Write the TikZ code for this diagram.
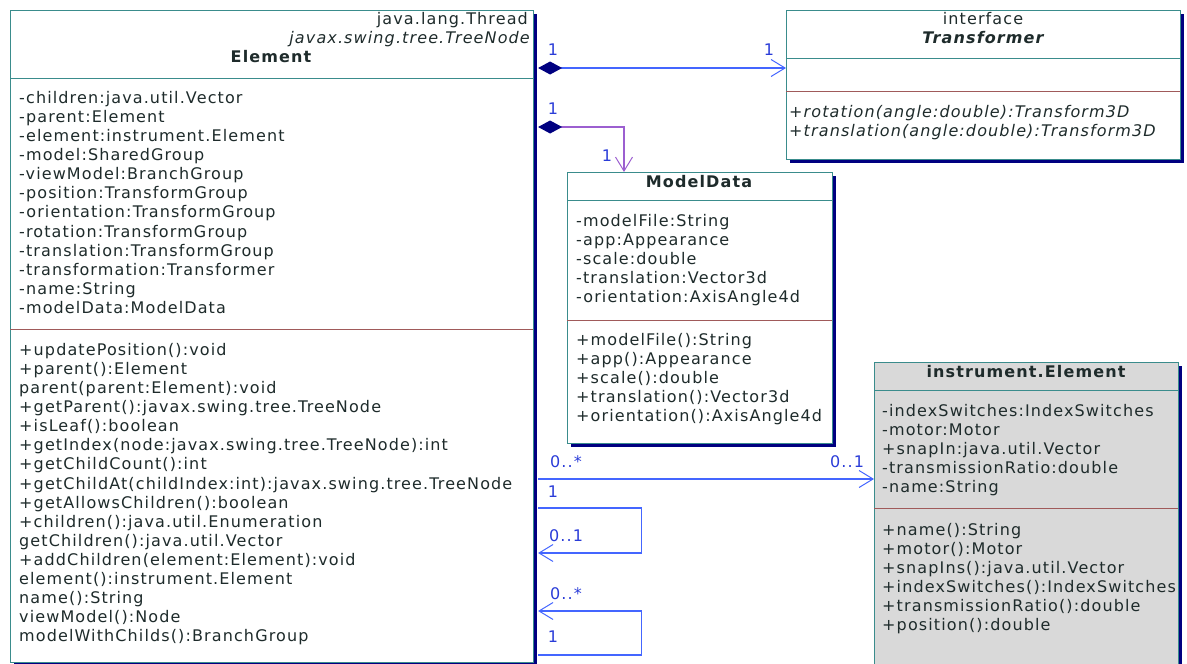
\documentclass[tikz,border=0pt]{standalone}
\usepackage{fontspec}
\setmainfont{DejaVu Sans}[LetterSpace=7]
\usetikzlibrary{arrows.meta,calc}

\definecolor{ink}{HTML}{1E2B2B}
\definecolor{frame}{HTML}{3A8C8C}
\definecolor{sepred}{HTML}{A05A5A}
\definecolor{shade}{HTML}{000080}
\definecolor{linkblue}{HTML}{4466FF}
\definecolor{linkpurple}{HTML}{9C5FD0}
\definecolor{multblue}{HTML}{2A3CD8}
\definecolor{grayfill}{HTML}{D9D9D9}

\newcommand{\umlfont}{\fontsize{16}{19.1}\selectfont}
\newcommand{\firstline}{\rule{0pt}{12pt}}

\begin{document}
\begin{tikzpicture}[x=1pt,y=-1pt,
  classbox/.style={draw=frame, line width=1.1pt, inner sep=0pt, anchor=north west},
  shadowbox/.style={fill=shade},
  sepline/.style={draw=frame, line width=1pt},
  members/.style={anchor=north west, inner sep=0pt, align=left, font=\umlfont, text=ink},
  title/.style={anchor=base, inner sep=0pt, font=\umlfont\bfseries, text=ink},
  stereo/.style={anchor=base, inner sep=0pt, font=\umlfont, text=ink},
  link/.style={draw=linkblue, line width=1.1pt},
  openhead/.style={-{Straight Barb[length=14pt,width=17pt,line width=1pt]}},
  comphead/.style={{Diamond[length=24pt,width=13pt,color=shade]}-{Straight Barb[length=14pt,width=17pt,line width=1pt]}},
  mult/.style={inner sep=0pt, font=\umlfont, text=multblue}
]
\useasboundingbox (0,0) rectangle (1187,664);

% ---------- class Element ----------
\fill[shadowbox] (14,14) rectangle (537,668);
\node[classbox, fill=white, minimum width=523pt, minimum height=652pt] (elem) at (10,10) {};
\draw[sepline] (10,78) -- (533,78);
\draw[sepline, draw=sepred] (10,329) -- (533,329);
\node[stereo, anchor=base east] (elemst1) at (528,24) {java.lang.Thread};
\node[stereo, anchor=base east, font=\umlfont\itshape] (elemst2) at (530,43) {javax.swing.tree.TreeNode};
\node[title] (elemtitle) at (271,62) {Element};
\node[members] (elemattr) at (19,91) {\firstline-children:java.util.Vector\\
-parent:Element\\
-element:instrument.Element\\
-model:SharedGroup\\
-viewModel:BranchGroup\\
-position:TransformGroup\\
-orientation:TransformGroup\\
-rotation:TransformGroup\\
-translation:TransformGroup\\
-transformation:Transformer\\
-name:String\\
-modelData:ModelData};
\node[members] (elemops) at (19,343) {\firstline+updatePosition():void\\
+parent():Element\\
parent(parent:Element):void\\
+getParent():javax.swing.tree.TreeNode\\
+isLeaf():boolean\\
+getIndex(node:javax.swing.tree.TreeNode):int\\
+getChildCount():int\\
+getChildAt(childIndex:int):javax.swing.tree.TreeNode\\
+getAllowsChildren():boolean\\
+children():java.util.Enumeration\\
getChildren():java.util.Vector\\
+addChildren(element:Element):void\\
element():instrument.Element\\
name():String\\
viewModel():Node\\
modelWithChilds():BranchGroup};

% ---------- interface Transformer ----------
\fill[shadowbox] (790,14) rectangle (1184,163);
\node[classbox, fill=white, minimum width=394pt, minimum height=149pt] (trans) at (786,10) {};
\draw[sepline] (786,58) -- (1180,58);
\draw[sepline, draw=sepred] (786,91) -- (1180,91);
\node[stereo] (transst) at (983,24) {interface};
\node[title, font=\umlfont\bfseries\itshape] (transtitle) at (983,43) {Transformer};
\node[members, font=\umlfont\itshape] (transops) at (789,105) {\firstline+rotation(angle:double):Transform3D\\
+translation(angle:double):Transform3D};

% ---------- class ModelData ----------
\fill[shadowbox] (571,176) rectangle (836,447);
\node[classbox, fill=white, minimum width=265pt, minimum height=271pt] (md) at (567,172) {};
\draw[sepline] (567,200) -- (832,200);
\draw[sepline, draw=sepred] (567,320) -- (832,320);
\node[title] (mdtitle) at (699,187) {ModelData};
\node[members] (mdattr) at (576,214) {\firstline-modelFile:String\\
-app:Appearance\\
-scale:double\\
-translation:Vector3d\\
-orientation:AxisAngle4d};
\node[members] (mdops) at (576,333) {\firstline+modelFile():String\\
+app():Appearance\\
+scale():double\\
+translation():Vector3d\\
+orientation():AxisAngle4d};

% ---------- class instrument.Element ----------
\fill[shadowbox] (878,366) rectangle (1182,690);
\node[classbox, fill=grayfill, minimum width=304pt, minimum height=320pt] (inst) at (874,362) {};
\draw[sepline] (874,390) -- (1178,390);
\draw[sepline, draw=sepred] (874,508) -- (1178,508);
\node[title] (insttitle) at (1026,377) {instrument.Element};
\node[members] (instattr) at (882,404) {\firstline-indexSwitches:IndexSwitches\\
-motor:Motor\\
+snapIn:java.util.Vector\\
-transmissionRatio:double\\
-name:String};
\node[members] (instops) at (882,523) {\firstline+name():String\\
+motor():Motor\\
+snapIns():java.util.Vector\\
+indexSwitches():IndexSwitches\\
+transmissionRatio():double\\
+position():double};

% ---------- connectors ----------
% composition Element -> Transformer
\draw[link, comphead] ($(elem.north east)+(4,58)$) -- ($(trans.north west)+(0,58)$);
\node[mult] (m1a) at (553,50) {1};
\node[mult] (m1b) at (769,50) {1};

% composition Element -> ModelData
\draw[link, draw=linkpurple, comphead] ($(elem.north east)+(4,117)$) -| ($(md.north west)+(57,0)$);
\node[mult] (m2a) at (553,109) {1};
\node[mult] (m2b) at (607,156) {1};

% association Element -> instrument.Element
\draw[link, openhead] ($(elem.north east)+(4,469)$) -- ($(inst.north west)+(0,117)$);
\node[mult] (m3a) at (566,462) {0..*};
\node[mult] (m3b) at (553,492) {1};
\node[mult] (m3c) at (847,462) {0..1};

% self association (parent)
\draw[link, openhead] ($(elem.north east)+(4,498)$) -| ($(elem.north east)+(107,543)$) -- ($(elem.north east)+(4,543)$);
\node[mult] (m4a) at (566,536) {0..1};

% self association (children)
\draw[link, openhead] ($(elem.north east)+(4,645)$) -| ($(elem.north east)+(107,601)$) -- ($(elem.north east)+(4,601)$);
\node[mult] (m5a) at (566,594) {0..*};
\node[mult] (m5b) at (553,637) {1};
\end{tikzpicture}
\end{document}
